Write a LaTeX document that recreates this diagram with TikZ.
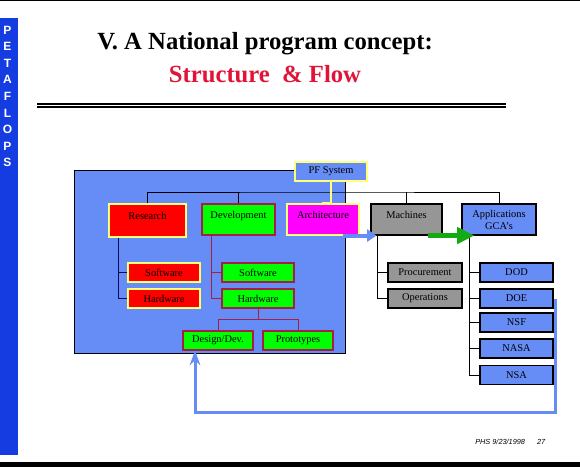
\documentclass[tikz,border=0pt]{standalone}
\usepackage{fontspec}
\setmainfont{Liberation Serif}
\newfontfamily\arialfont{Liberation Sans}
\usetikzlibrary{arrows.meta,calc}

\definecolor{panelblue}{RGB}{102,140,245}
\definecolor{barblue}{RGB}{20,60,225}
\definecolor{titlered}{RGB}{225,20,55}
\definecolor{boxred}{RGB}{255,0,0}
\definecolor{boxgreen}{RGB}{0,255,0}
\definecolor{boxmag}{RGB}{255,0,255}
\definecolor{boxgray}{RGB}{150,150,150}
\definecolor{lightyellow}{RGB}{255,255,120}
\definecolor{wine}{RGB}{165,30,70}
\definecolor{navyline}{RGB}{10,10,90}
\definecolor{arrowgreen}{RGB}{20,170,20}

\begin{document}
\begin{tikzpicture}[x=0.75pt,y=0.75pt,yscale=-1,xscale=1,
  sz/.style 2 args={minimum width=#1*0.75pt,minimum height=#2*0.75pt},
  box/.style={draw,line width=0.8pt,inner sep=0pt,font=\fontsize{7.8}{9}\selectfont},
  topbox/.style={box,text height=10.5pt,text depth=12.75pt},
  subbox/.style={box,sz={72}{19}},
  sideletter/.style={text=white,inner sep=0pt,font=\arialfont\bfseries\fontsize{9}{10}\selectfont},
  titlefont/.style={inner sep=0pt,anchor=base,font=\bfseries\fontsize{18.5}{20}\selectfont}]
\useasboundingbox (0,0) rectangle (580,467);

%Top and bottom rules
\fill (0,0) rectangle (580,1.5);
\fill (0,462) rectangle (580,467);
%Side bar
\fill[barblue] (0,18) rectangle (18,455);
\foreach \ch [count=\i] in {P,E,T,A,F,L,O,P,S}
  \node[sideletter] (side\i) at (7.5,{30+16.6*(\i-1)}) {\ch};

% Title
\node[titlefont] (title) at (265,50) {V. A National program concept:};
\node[titlefont,text=titlered] (subtitle) at (265,82) {Structure\ \ \& Flow};
\draw[line width=1.5pt] (37,104.3) -- (506,104.3);
\draw[line width=1pt] (37,107) -- (506,107);

%Shape: Rectangle (panel)
\draw[fill=panelblue,line width=0.75pt] (74,170) rectangle (345,353);

% Top row
\node[box,draw=lightyellow,fill=panelblue,sz={72}{19}] (pf) at (331,171.5) {PF System};
\node[topbox,draw=lightyellow,fill=boxred,sz={77}{33}] (research) at (147.5,220.5) {Research};
\node[topbox,draw=wine,fill=boxgreen,sz={73}{31}] (dev) at (238.5,219.5) {Development};
\node[topbox,draw=lightyellow,fill=boxmag,sz={72}{31}] (arch) at (323,219.5) {Architecture};
\node[topbox,draw=black,fill=boxgray,sz={71}{31}] (mach) at (406.5,219.5) {Machines};
\node[box,draw=black,fill=panelblue,sz={74}{31},align=center] (apps) at (499,219.5) {Applications\\GCA's};

% Research branch
\node[subbox,draw=lightyellow,fill=boxred] (rsoft) at (164,272.5) {Software};
\node[subbox,draw=lightyellow,fill=boxred] (rhard) at (164,298.5) {Hardware};
% Development branch
\node[subbox,draw=wine,fill=boxgreen] (gsoft) at (258,272.5) {Software};
\node[subbox,draw=wine,fill=boxgreen] (ghard) at (258,298.5) {Hardware};
\node[box,draw=wine,fill=boxgreen,sz={70}{19}] (design) at (218,340.5) {Design/Dev.};
\node[box,draw=wine,fill=boxgreen,sz={70}{19}] (proto) at (298,340.5) {Prototypes};
% Machines branch
\node[box,draw=black,fill=boxgray,sz={74}{19}] (procure) at (425,272.5) {Procurement};
\node[box,draw=black,fill=boxgray,sz={74}{19}] (oper) at (425,298.5) {Operations};
% Applications branch
\node[box,draw=black,fill=panelblue,sz={73}{19}] (dod) at (516.5,272.5) {DOD};
\node[box,draw=black,fill=panelblue,sz={73}{19}] (doe) at (516.5,298.5) {DOE};
\node[box,draw=black,fill=panelblue,sz={73}{19}] (nsf) at (516.5,322.5) {NSF};
\node[box,draw=black,fill=panelblue,sz={73}{19}] (nasa) at (516.5,348.5) {NASA};
\node[box,draw=black,fill=panelblue,sz={73}{19}] (nsa) at (516.5,375) {NSA};

% Tree lines
\coordinate (bus) at (331,192);
\draw[line width=0.75pt] (research.north) |- (bus) -| (apps.north);
\draw[line width=0.75pt] (dev.north) -- (dev.north |- bus);
\draw[line width=0.75pt] (mach.north) -- (mach.north |- bus);
\draw[lightyellow,line width=1pt] (pf.south) -- ++(0,21) -| (arch.north);

\coordinate (rs) at ($(research.south west)+(10,0)$);
\draw[navyline,line width=0.75pt] (rhard.west) -| (rs);
\draw[navyline,line width=0.75pt] (rsoft.west) -- (rsoft.west -| rs);

\coordinate (ds) at ($(dev.south west)+(10,0)$);
\draw[wine,line width=0.75pt] (ghard.west) -| (ds);
\draw[wine,line width=0.75pt] (gsoft.west) -- (gsoft.west -| ds);
\draw[wine,line width=0.75pt] (ghard.south) -- ++(0,11);
\draw[wine,line width=0.75pt] (design.north) |- ($(ghard.south)+(0,11)$) -| (proto.north);

\coordinate (ms) at ($(mach.south west)+(7,0)$);
\draw[line width=0.75pt] (oper.west) -| (ms);
\draw[line width=0.75pt] (procure.west) -- (procure.west -| ms);

\coordinate (as) at ($(apps.south west)+(8,0)$);
\draw[line width=0.75pt] (nsa.west) -| (as);
\foreach \b in {dod,doe,nsf,nasa}
  \draw[line width=0.75pt] (\b.west) -- (\b.west -| as);

% Flow arrows
\draw[panelblue,line width=3pt,-{Triangle[length=7pt,width=9pt]}]
  ($(arch.south east)+(-17,0)$) -- ($(mach.south west)+(6,0)$);
\draw[arrowgreen,line width=3.5pt,-{Triangle[length=13pt,width=12pt]}]
  ($(mach.south east)+(-15,0)$) -- ($(apps.south west)+(13,0)$);
\coordinate (fbturn) at (195,412);
\draw[panelblue,line width=2.25pt,-{Stealth[length=11pt,width=8pt]}]
  ($(doe.east)+(2,0)$) |- (fbturn) -- (fbturn |- design.south);

% Footer
\node[anchor=base west,inner sep=0pt,font=\arialfont\itshape\fontsize{5.5}{6}\selectfont] (footer) at (475,444) {PHS 9/23/1998\hspace{9pt}27};
\end{tikzpicture}
\end{document}
